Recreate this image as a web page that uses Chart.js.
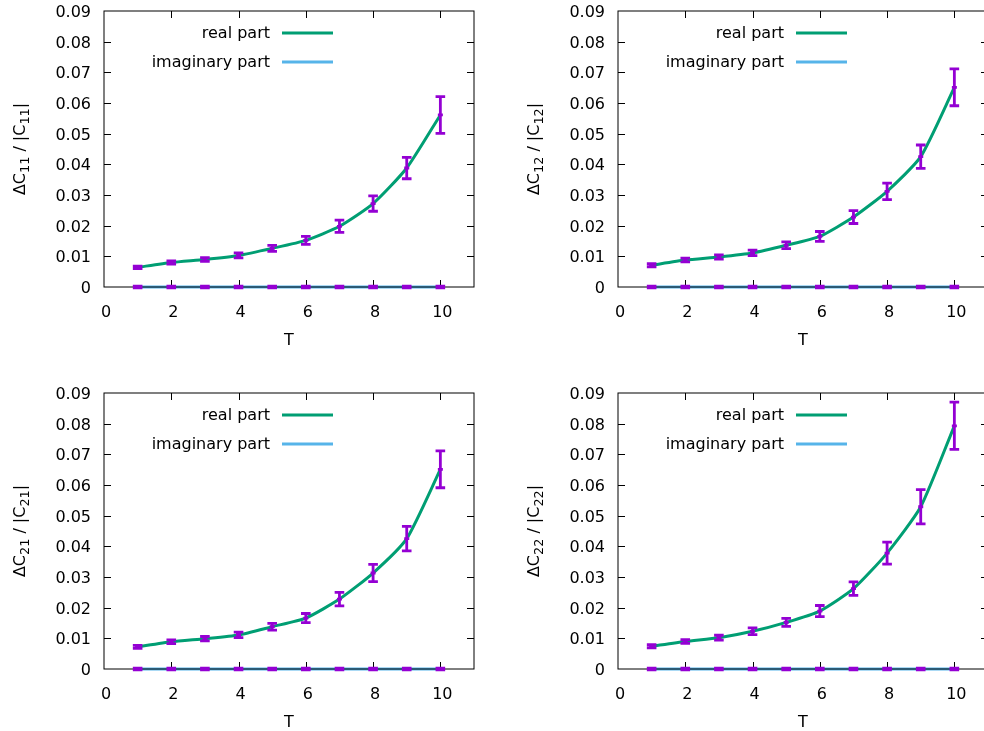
<!DOCTYPE html>
<html><head><meta charset="utf-8">
<script src="https://cdn.jsdelivr.net/npm/chart.js@4.4.0/dist/chart.umd.min.js"></script>
<style>
html,body{margin:0;padding:0;background:#fff;overflow:hidden;width:984px;height:731px;position:relative;}
.p{position:absolute;width:490px;height:365px;}
</style></head><body>
<div class="p" style="left:0px;top:0px"><canvas id="c11" width="490" height="365"></canvas></div>
<div class="p" style="left:514px;top:0px"><canvas id="c12" width="490" height="365"></canvas></div>
<div class="p" style="left:0px;top:382px"><canvas id="c21" width="490" height="365"></canvas></div>
<div class="p" style="left:514px;top:382px"><canvas id="c22" width="490" height="365"></canvas></div>
<script>
// ---- data ----
const T = [1, 2, 3, 4, 5, 6, 7, 8, 9, 10];
const xTicks = [0, 2, 4, 6, 8, 10];
const yTicks = [0, 0.01, 0.02, 0.03, 0.04, 0.05, 0.06, 0.07, 0.08, 0.09];

const real11 = [0.0064, 0.0080, 0.0090, 0.0103, 0.0126, 0.0152, 0.0198, 0.0272, 0.0388, 0.0561];
const err11  = [0.0004, 0.0005, 0.0006, 0.0008, 0.0010, 0.0013, 0.0020, 0.0025, 0.0035, 0.0060];
const real12 = [0.0071, 0.0088, 0.0098, 0.0111, 0.0136, 0.0165, 0.0228, 0.0312, 0.0425, 0.0651];
const err12  = [0.0005, 0.0006, 0.0007, 0.0009, 0.0011, 0.0016, 0.0021, 0.0027, 0.0038, 0.0060];
const real21 = [0.0072, 0.0089, 0.0099, 0.0111, 0.0138, 0.0166, 0.0228, 0.0313, 0.0425, 0.0651];
const err21  = [0.0005, 0.0006, 0.0007, 0.0009, 0.0011, 0.0015, 0.0022, 0.0028, 0.0040, 0.0060];
const real22 = [0.0074, 0.0090, 0.0102, 0.0123, 0.0152, 0.0189, 0.0262, 0.0378, 0.0529, 0.0793];
const err22  = [0.0005, 0.0006, 0.0008, 0.0011, 0.0013, 0.0018, 0.0022, 0.0036, 0.0056, 0.0077];

const imag11 = [0, 0, 0, 0, 0, 0, 0, 0, 0, 0];
const imag12 = [0, 0, 0, 0, 0, 0, 0, 0, 0, 0];
const imag21 = [0, 0, 0, 0, 0, 0, 0, 0, 0, 0];
const imag22 = [0, 0, 0, 0, 0, 0, 0, 0, 0, 0];
const imagErr = [0.0003, 0.0003, 0.0003, 0.0003, 0.0003, 0.0003, 0.0003, 0.0003, 0.0003, 0.0003];

const seriesLabels = ['real part', 'imaginary part'];
const xTitle = 'T';

// ---- style ----
const GREEN = '#009e73', BLUE = '#56b4e9', PURPLE = '#9400d3';
const FAM = '"DejaVu Sans", sans-serif';
const FONT = {family: FAM, size: 16};

const framePlugin = {
  id: 'gnuframe',
  afterDatasetsDraw(chart) {
    const {ctx, chartArea: a, scales: {x, y}} = chart;
    ctx.save();
    // inward ticks
    ctx.strokeStyle = '#000';
    ctx.lineWidth = 1;
    ctx.beginPath();
    xTicks.forEach(v => {
      if (v <= x.min || v >= x.max) return;
      const px = Math.round(x.getPixelForValue(v)) + 0.5;
      ctx.moveTo(px, a.bottom); ctx.lineTo(px, a.bottom - 7);
      ctx.moveTo(px, a.top); ctx.lineTo(px, a.top + 7);
    });
    yTicks.forEach(v => {
      if (v <= y.min || v >= y.max) return;
      const py = Math.round(y.getPixelForValue(v)) + 0.5;
      ctx.moveTo(a.left, py); ctx.lineTo(a.left + 7, py);
      ctx.moveTo(a.right, py); ctx.lineTo(a.right - 7, py);
    });
    ctx.stroke();
    // border
    ctx.strokeRect(a.left, a.top, a.right - a.left, a.bottom - a.top);

    // error bars
    ctx.strokeStyle = PURPLE;
    ctx.lineWidth = 2.8;
    ctx.lineCap = 'butt';
    chart.data.datasets.forEach(ds => {
      const errs = ds.errors || [];
      ds.data.forEach((pt, i) => {
        const e = errs[i] || 0;
        const px = x.getPixelForValue(pt.x);
        const yl = y.getPixelForValue(pt.y - e);
        const yh = y.getPixelForValue(pt.y + e);
        const yc = y.getPixelForValue(pt.y);
        ctx.beginPath();
        ctx.moveTo(px, yl); ctx.lineTo(px, yh);
        ctx.moveTo(px - 4.8, yl); ctx.lineTo(px + 4.8, yl);
        ctx.moveTo(px - 4.8, yh); ctx.lineTo(px + 4.8, yh);
        ctx.moveTo(px - 2.5, yc); ctx.lineTo(px + 2.5, yc);
        ctx.stroke();
      });
    });

    // legend
    ctx.font = '16px ' + FAM;
    ctx.fillStyle = '#000';
    ctx.textAlign = 'right';
    ctx.textBaseline = 'middle';
    chart.data.datasets.forEach((ds, i) => {
      const ly = a.top + 22 + 29 * i;
      ctx.fillText(ds.label, a.left + 166, ly + 1);
      ctx.strokeStyle = ds.borderColor;
      ctx.lineWidth = 3;
      ctx.beginPath();
      ctx.moveTo(a.left + 178, ly); ctx.lineTo(a.left + 229, ly);
      ctx.stroke();
    });

    // y-axis title with subscripts
    const parts = chart.options.plugins.gnuframe.titleParts;
    const cy = (a.top + a.bottom) / 2;
    ctx.translate(25, cy);
    ctx.rotate(-Math.PI / 2);
    ctx.textAlign = 'left';
    ctx.textBaseline = 'alphabetic';
    let total = 0;
    parts.forEach(p => { ctx.font = (p.sub ? '12.8px ' : '16px ') + FAM; total += ctx.measureText(p.t).width; });
    let cx = -total / 2;
    parts.forEach(p => {
      ctx.font = (p.sub ? '12.8px ' : '16px ') + FAM;
      ctx.fillText(p.t, cx, p.sub ? 4 : 0);
      cx += ctx.measureText(p.t).width;
    });
    ctx.restore();
  }
};

function titleParts(idx) {
  return [{t: 'ΔC'}, {t: idx, sub: true}, {t: ' / |C'}, {t: idx, sub: true}, {t: '|'}];
}

function makeChart(id, idx, real, realErr, imag, imErr) {
  new Chart(document.getElementById(id), {
    type: 'line',
    data: {
      datasets: [
        {label: seriesLabels[0], data: T.map((t, i) => ({x: t, y: real[i]})), errors: realErr,
         borderColor: GREEN, borderWidth: 3, pointRadius: 0, tension: 0.2, clip: false, fill: false},
        {label: seriesLabels[1], data: T.map((t, i) => ({x: t, y: imag[i]})), errors: imErr,
         borderColor: BLUE, borderWidth: 3, pointRadius: 0, clip: false, fill: false}
      ]
    },
    options: {
      responsive: false, animation: false, devicePixelRatio: 1,
      layout: {padding: {top: 11, right: 16, left: 0, bottom: 0}},
      plugins: {legend: {display: false}, tooltip: {enabled: false}, gnuframe: {titleParts: titleParts(idx)}},
      events: [],
      scales: {
        x: {
          type: 'linear', min: 0, max: 11,
          afterBuildTicks: s => { s.ticks = xTicks.map(v => ({value: v})); },
          afterFit: s => { s.height = 78; s.paddingLeft = 0; s.paddingRight = 0; },
          grid: {display: false, drawTicks: false}, border: {display: false},
          ticks: {padding: 16, labelOffset: 2, font: FONT, color: '#000', maxRotation: 0, autoSkip: false},
          title: {display: true, text: xTitle, font: FONT, color: '#000', padding: {top: 0, bottom: 15}}
        },
        y: {
          type: 'linear', min: 0, max: 0.09,
          afterBuildTicks: s => { s.ticks = yTicks.map(v => ({value: v})); },
          afterFit: s => { s.width = 104; s.paddingTop = 0; s.paddingBottom = 0; },
          grid: {display: false, drawTicks: false}, border: {display: false},
          ticks: {padding: 13, labelOffset: 2, font: FONT, color: '#000', autoSkip: false,
                  callback: v => v === 0 ? '0' : v.toFixed(2)},
          title: {display: false}
        }
      }
    },
    plugins: [framePlugin]
  });
}

makeChart('c11', '11', real11, err11, imag11, imagErr);
makeChart('c12', '12', real12, err12, imag12, imagErr);
makeChart('c21', '21', real21, err21, imag21, imagErr);
makeChart('c22', '22', real22, err22, imag22, imagErr);
</script>
</body></html>
